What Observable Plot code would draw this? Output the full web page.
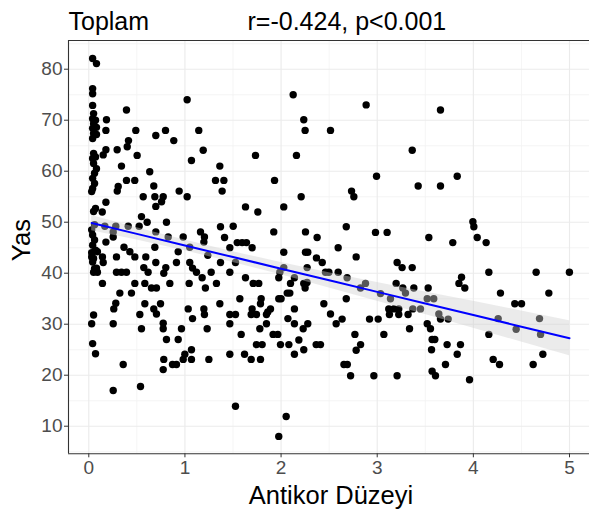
<!DOCTYPE html>
<html>
<head>
<meta charset="utf-8">
<script src="https://cdn.jsdelivr.net/npm/d3@7"></script>
<script src="https://cdn.jsdelivr.net/npm/@observablehq/plot@0.6"></script>
<style>
  html, body { margin: 0; padding: 0; background: #fff; }
  #chart { width: 589px; height: 510px; }
</style>
</head>
<body>
<div id="chart"></div>
<script>
// ---- Data ----
const titleLeft = "Toplam";
const titleStat = "r=-0.424, p<0.001";
const xLabel = "Antikor Düzeyi";
const yLabel = "Yas";

const xTicks = [0, 1, 2, 3, 4, 5];
const yTicks = [10, 20, 30, 40, 50, 60, 70, 80];
const xMinor = [0.5, 1.5, 2.5, 3.5, 4.5];
const yMinor = [5, 15, 25, 35, 45, 55, 65, 75, 85];

// Antikor Düzeyi (x) and Yas (y), paired by index
const antikor = [
  // dense column near zero
  0.04,0.08,0.04,0.04,0.04,0.05,0.04,0.07,0.05,0.08,0.04,0.05,0.08,0.04,0.05,0.07,0.04,0.05,0.08,0.06,
  0.04,0.06,0.04,0.03,0.07,0.05,0.06,0.03,0.04,0.06,0.04,0.07,0.05,0.04,0.06,0.05,0.03,0.04,0.07,
  0.09,0.03,0.08,0.05,0.09,0.03,
  // 0.1 - 1.1, upper
  0.184,0.392,0.178,0.489,0.697,0.798,0.413,0.884,1.023,0.40,0.295,0.178,0.15,0.503,1.068,0.34,0.634,0.392,0.478,0.306,
  0.296,0.676,0.566,0.687,0.774,0.757,0.697,0.94,1.023,0.178,0.14,0.548,0.607,0.808,0.167,0.281,0.41,0.524,0.254,0.254,
  0.697,0.826,0.982,0.178,0.366,0.687,
  // 0.1 - 1.1, lower
  0.427,0.479,0.288,0.593,0.142,0.15,0.93,1.05,0.697,0.912,1.05,1.079,1.12,0.572,0.617,0.801,0.78,0.288,0.34,0.392,
  0.142,0.479,0.583,0.843,1.044,0.652,0.704,0.323,0.444,0.281,0.26,0.583,0.746,0.676,0.704,0.531,1.034,1.079,0.254,0.774,
  0.774,0.548,0.964,0.808,0.93,1.068,0.999,0.982,1.068,0.78,0.871,0.912,0.774,0.358,0.538,0.254,
  // 1.1 - 2.4, upper
  1.144,1.19,1.363,1.734,2.126,2.236,2.25,2.16,1.318,1.405,1.387,1.932,2.209,1.63,1.758,2.028,1.162,1.203,1.197,1.37,
  1.502,1.412,1.544,1.595,1.64,1.467,1.699,1.924,2.254,2.375,
  // 1.1 - 2.4, lower
  1.238,1.37,1.526,1.179,1.213,1.273,1.328,1.467,1.63,1.71,1.768,2.028,2.254,2.278,2.368,2.271,1.987,2.028,1.976,2.098,
  2.139,2.236,2.27,2.25,1.363,1.571,1.793,1.786,1.976,2.0,2.064,2.091,1.197,1.203,1.467,1.526,1.699,1.689,1.744,1.89,
  1.862,1.848,2.139,2.071,2.139,2.278,2.23,1.467,1.585,1.231,1.779,1.848,1.917,1.966,2.185,1.744,1.803,1.994,2.081,2.236,
  2.365,1.249,1.467,1.62,1.689,1.786,2.139,1.526,2.053,1.976,
  // 2.4 - 3.7, upper
  2.885,2.514,3.658,3.364,2.993,3.426,3.658,2.733,2.757,2.678,2.982,3.103,3.537,2.594,
  // 2.4 - 3.7, lower
  2.428,2.781,2.462,2.497,2.594,2.687,2.878,2.826,2.678,2.445,2.514,2.573,2.635,2.92,3.01,2.768,2.827,2.781,2.41,2.654,
  2.689,2.723,2.965,3.207,3.069,3.034,3.138,3.207,3.259,3.364,3.197,3.266,3.294,3.381,3.12,3.172,3.224,3.127,3.224,3.321,
  3.37,3.45,3.336,3.53,3.52,3.588,3.52,3.554,3.571,3.599,3.565,3.727,3.571,3.606,3.71,3.641,3.658,3.738,
  // 3.7 - 5
  3.832,3.995,4.005,4.04,4.133,3.786,
  4.161,3.877,3.85,3.911,4.282,4.653,4.999,4.785,4.431,4.501,4.258,4.688,4.161,4.445,4.699,3.866,3.832,3.96,4.206,4.272,
  4.723,4.622
];
const yas = [
  82.1,81.1,76.2,75.2,72.9,71.3,70.3,70.0,69.3,68.6,68.4,67.4,67.2,66.4,63.5,62.8,62.5,61.5,60.5,59.6,
  58.6,57.6,56.6,56.0,52.7,52.1,49.5,48.5,47.5,46.5,45.5,44.5,42.9,42.2,40.9,31.8,30.1,26.2,24.2,
  44.2,43.2,41.0,40.2,40.2,44.0,
  70.1,72.0,68.0,68.0,67.0,68.0,66.0,66.0,74.0,64.8,64.2,64.2,63.2,63.1,62.1,61.0,59.9,58.2,58.2,57.0,
  56.1,57.1,55.0,55.0,55.0,54.0,53.1,56.1,55.0,53.9,52.0,51.1,50.0,50.0,49.2,49.2,49.2,49.2,48.1,47.1,
  48.1,47.1,47.1,46.1,45.1,45.1,
  44.2,43.2,43.2,43.2,43.2,42.1,44.2,45.1,42.1,42.1,42.1,41.0,40.2,41.1,40.2,41.1,40.0,40.2,40.2,40.2,
  38.0,38.0,38.0,38.0,38.0,37.1,37.1,36.1,36.1,34.1,33.0,34.0,34.0,33.0,32.0,31.9,33.0,31.1,30.1,30.2,
  29.1,29.1,29.1,27.0,27.0,25.0,24.1,23.1,23.1,23.1,22.1,22.1,21.1,22.1,17.8,17.0,
  68.0,64.1,61.0,63.1,75.0,70.1,68.0,63.1,58.2,58.2,56.1,58.2,55.0,53.0,52.0,53.0,48.1,47.1,46.1,49.1,
  49.2,47.0,46.0,46.0,46.0,45.0,45.0,48.1,48.1,47.0,
  43.5,42.1,42.1,39.1,37.1,40.2,38.0,40.2,39.1,38.0,38.0,44.1,44.1,44.1,43.0,41.1,40.2,41.1,39.1,38.0,
  39.1,38.0,38.2,37.1,34.0,35.0,35.0,34.0,35.0,35.0,36.1,36.1,33.0,31.9,31.9,31.9,33.0,31.9,31.9,33.0,
  32.4,31.9,33.0,31.1,30.1,30.1,29.1,30.1,28.0,29.1,29.1,30.1,28.0,28.0,26.9,26.0,26.0,26.0,26.0,25.0,
  26.0,23.1,24.1,24.1,23.1,23.1,24.1,13.9,11.9,8.0,
  73.0,68.0,72.0,64.1,59.0,57.1,57.1,56.1,55.0,49.1,48.0,48.0,47.0,45.0,
  42.1,43.2,40.2,40.2,40.2,39.1,38.0,37.1,35.0,34.0,32.0,30.1,31.0,31.0,31.0,28.0,26.0,24.9,26.0,22.1,
  22.1,19.9,19.9,19.9,28.0,36.0,35.0,42.1,41.1,41.1,38.0,37.1,36.1,37.1,33.0,33.0,33.0,31.9,31.9,31.9,
  33.0,33.0,29.1,37.1,35.0,35.0,30.1,29.1,27.0,27.0,25.0,26.0,20.8,19.9,22.1,32.0,31.0,31.0,
  59.0,50.1,49.1,47.0,46.0,46.0,
  40.2,39.2,38.0,37.1,36.1,40.2,40.2,36.1,34.0,34.0,31.1,31.1,28.0,29.0,28.0,26.0,24.1,19.1,23.1,22.1,
  24.1,22.1
];

// Fitted line and its confidence band
const fitX  = [0.03, 0.5, 1, 1.5, 2, 2.5, 3, 3.5, 4, 4.5, 5];
const fitY  = [49.84, 47.71, 45.43, 43.16, 40.89, 38.62, 36.34, 34.07, 31.80, 29.52, 27.25];
const fitLo = [48.35, 46.5, 44.4, 42.1, 39.7, 37.1, 34.5, 31.9, 29.2, 26.5, 23.8];
const fitHi = [51.33, 48.9, 46.5, 44.2, 42.1, 40.1, 38.2, 36.3, 34.5, 32.6, 30.7];

// ---- Build tables ----
const n = Math.min(antikor.length, yas.length);
const points = d3.range(n).map(i => ({x: antikor[i], y: yas[i]}));
const band = fitX.map((x, i) => ({x, y: fitY[i], lo: fitLo[i], hi: fitHi[i]}));

const font = "'Liberation Sans', Arial, Helvetica, sans-serif";
const xDom = [-0.211, 5.208];
const yDom = [4.59, 85.63];

const chart = Plot.plot({
  width: 589,
  height: 510,
  marginLeft: 68,
  marginRight: 0,
  marginTop: 40,
  marginBottom: 56.7,
  x: {domain: xDom},
  y: {domain: yDom},
  style: {fontFamily: font, background: "#fff", overflow: "visible"},
  marks: [
    Plot.ruleX(xMinor, {stroke: "#f2f2f2", strokeWidth: 0.8}),
    Plot.ruleY(yMinor, {stroke: "#f2f2f2", strokeWidth: 0.8}),
    Plot.ruleX(xTicks, {stroke: "#ebebeb", strokeWidth: 1.1}),
    Plot.ruleY(yTicks, {stroke: "#ebebeb", strokeWidth: 1.1}),
    Plot.dot(points, {x: "x", y: "y", r: 3.7, fill: "#000", stroke: "none"}),
    Plot.areaY(band, {x: "x", y1: "lo", y2: "hi", fill: "#cfcfcf", fillOpacity: 0.42}),
    Plot.line(band, {x: "x", y: "y", stroke: "#0000ff", strokeWidth: 2}),
    // panel border (left, top, bottom; right side is cut by the picture edge)
    Plot.ruleX([xDom[0]], {stroke: "#333", strokeWidth: 1.1}),
    Plot.ruleY([yDom[0]], {stroke: "#333", strokeWidth: 1.1}),
    Plot.ruleY([yDom[1]], {stroke: "#333", strokeWidth: 1.1}),
    Plot.axisX(xTicks, {anchor: "bottom", tickSize: 4, tickPadding: 3, fontSize: 19, fill: "#4d4d4d", stroke: "#333", label: null}),
    Plot.axisY(yTicks, {anchor: "left", tickSize: 4, tickPadding: 2, fontSize: 19, fill: "#4d4d4d", stroke: "#333", label: null}),
    Plot.text([xLabel], {frameAnchor: "bottom", dy: 42, dx: 2, lineAnchor: "middle", fontSize: 25.5, fill: "#000"}),
    Plot.text([yLabel], {frameAnchor: "left", dx: -47, dy: 14, rotate: -90, lineAnchor: "middle", fontSize: 25.5, fill: "#000"}),
    Plot.text([titleLeft], {frameAnchor: "top-left", dy: -11, textAnchor: "start", lineAnchor: "bottom", fontSize: 25, fill: "#000"}),
    Plot.text([titleStat], {frameAnchor: "top-left", dx: 179, dy: -11, textAnchor: "start", lineAnchor: "bottom", fontSize: 25, fill: "#000"})
  ]
});
document.getElementById("chart").appendChild(chart);
</script>
</body>
</html>
